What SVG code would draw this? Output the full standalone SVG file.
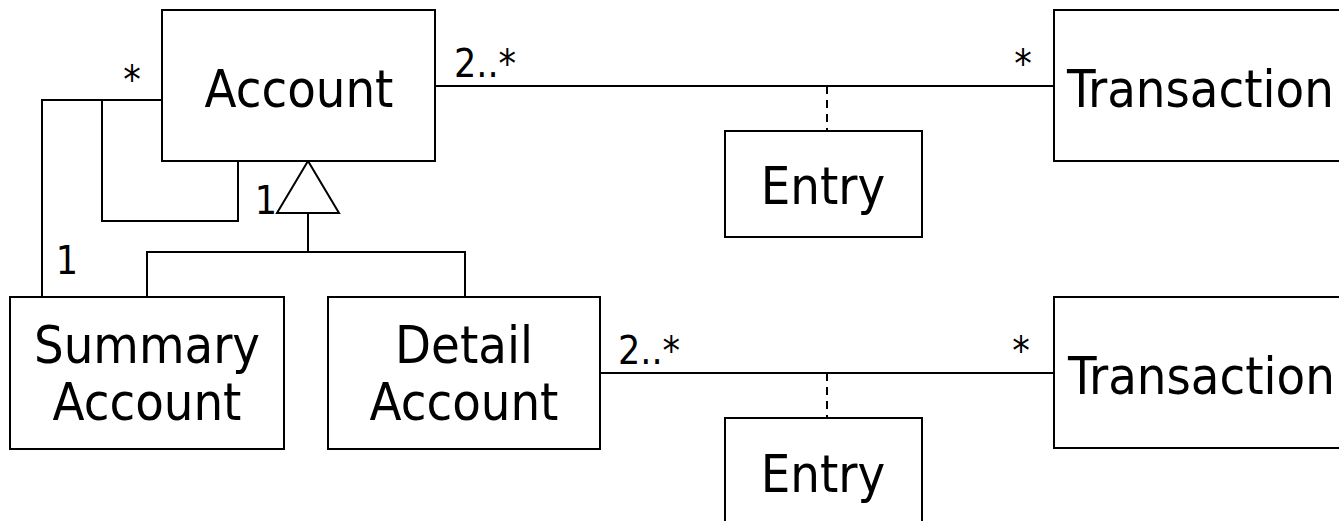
<svg xmlns="http://www.w3.org/2000/svg" width="1339" height="521" viewBox="0 0 1339 521">
  <style>
    .box { fill: #fff; stroke: #000; stroke-width: 2; }
    .name { font-family: "DejaVu Sans Condensed", "DejaVu Sans", sans-serif; font-stretch: condensed; font-size: 52px; fill: #000; text-anchor: middle; }
    .name.left { text-anchor: start; }
    .mult { font-family: "DejaVu Sans Condensed", "DejaVu Sans", sans-serif; font-stretch: condensed; font-size: 39px; fill: #000; }
    .line { fill: none; stroke: #000; stroke-width: 2; }
    .dash { fill: none; stroke: #000; stroke-width: 2; stroke-dasharray: 8 6; }
  </style>
  <rect width="1339" height="521" fill="#fff"/>

  <!-- connectors -->
  <g id="connectors">
    <!-- Summary Account to Account -->
    <polyline class="line" points="42,297 42,100 162,100"/>
    <!-- Account self association -->
    <polyline class="line" points="102,100 102,221 238,221 238,161"/>
    <!-- generalization -->
    <polyline class="line" points="147,297 147,252 465,252 465,297"/>
    <line class="line" x1="308" y1="252" x2="308" y2="213"/>
    <polygon class="box" points="308,161 277,213 339,213"/>
    <!-- Account to Transaction -->
    <line class="line" x1="435" y1="86" x2="1054" y2="86"/>
    <line class="dash" x1="827" y1="86" x2="827" y2="131"/>
    <!-- Detail Account to Transaction -->
    <line class="line" x1="600" y1="373" x2="1054" y2="373"/>
    <line class="dash" x1="827" y1="373" x2="827" y2="418"/>
    <!-- multiplicities -->
    <text class="mult" x="132" y="93" text-anchor="middle">*</text>
    <text class="mult" x="78" y="274" text-anchor="end">1</text>
    <text class="mult" x="277" y="214" text-anchor="end">1</text>
    <text class="mult" x="454" y="77">2..*</text>
    <text class="mult" x="1023" y="77" text-anchor="middle">*</text>
    <text class="mult" x="618" y="364">2..*</text>
    <text class="mult" x="1021" y="364" text-anchor="middle">*</text>
  </g>

  <g id="account">
    <rect class="box" x="162" y="10" width="273" height="151"/>
    <text class="name" x="299" y="107">Account</text>
  </g>
  <g id="transaction-1">
    <rect class="box" x="1054" y="10" width="300" height="151"/>
    <text class="name left" x="1067" y="107">Transaction</text>
  </g>
  <g id="entry-1">
    <rect class="box" x="725" y="131" width="197" height="106"/>
    <text class="name" x="823" y="204">Entry</text>
  </g>
  <g id="summary-account">
    <rect class="box" x="10" y="297" width="274" height="152"/>
    <text class="name" x="147" y="363">Summary</text>
    <text class="name" x="147" y="420">Account</text>
  </g>
  <g id="detail-account">
    <rect class="box" x="328" y="297" width="272" height="152"/>
    <text class="name" x="464" y="363">Detail</text>
    <text class="name" x="464" y="420">Account</text>
  </g>
  <g id="transaction-2">
    <rect class="box" x="1054" y="297" width="300" height="151"/>
    <text class="name left" x="1068" y="394">Transaction</text>
  </g>
  <g id="entry-2">
    <rect class="box" x="725" y="418" width="197" height="120"/>
    <text class="name" x="823" y="492">Entry</text>
  </g>
</svg>
